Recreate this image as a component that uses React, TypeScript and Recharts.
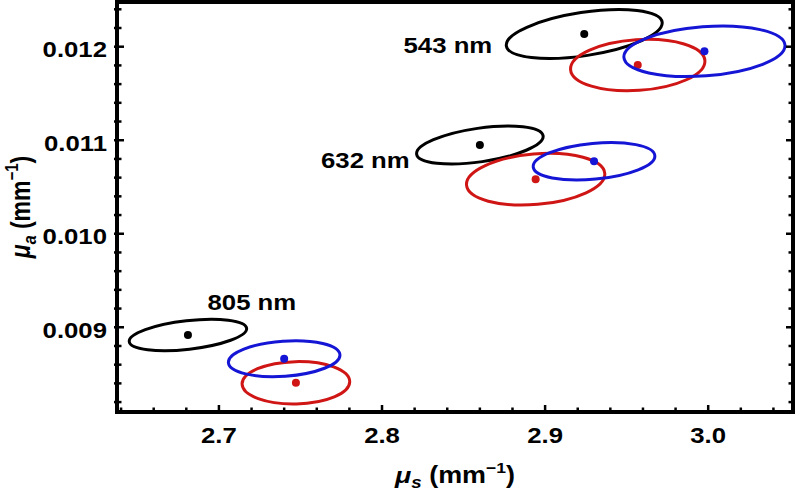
import React from 'react';
import { ScatterChart, Scatter, XAxis, YAxis } from 'recharts';

// wavelength groups, same order in every array below
const wavelengths = ['543 nm', '632 nm', '805 nm'];

// black estimates: centre, half extent of the ellipse along each axis, correlation
const blackMus = [2.924, 2.86, 2.681];
const blackMua = [0.012136, 0.010949, 0.008918];
const blackHalfMus = [0.0478, 0.0388, 0.036];
const blackHalfMua = [0.000262, 0.000203, 0.000168];
const blackRho = [0.45, 0.45, 0.4];

const redMus = [2.9568, 2.8942, 2.7472];
const redMua = [0.011804, 0.010583, 0.008406];
const redHalfMus = [0.0412, 0.0424, 0.033];
const redHalfMua = [0.000275, 0.000276, 0.000227];
const redRho = [0.15, 0.2, 0.05];

const blueMus = [2.9977, 2.93, 2.74];
const blueMua = [0.011951, 0.010775, 0.008664];
const blueHalfMus = [0.0494, 0.0373, 0.0342];
const blueHalfMua = [0.00027, 0.0002, 0.000192];
const blueRho = [0.22, 0.28, 0.2];

// where the wavelength labels sit
const labelMus = [2.8404, 2.7898, 2.7202];
const labelMua = [0.012018, 0.010789, 0.009274];

const xMajorTicks = [2.7, 2.8, 2.9, 3.0];
const xMinorTicks = [2.64, 2.66, 2.68, 2.72, 2.74, 2.76, 2.78, 2.82, 2.84, 2.86, 2.88, 2.92, 2.94, 2.96, 2.98, 3.02, 3.04];
const yMajorTicks = [0.009, 0.01, 0.011, 0.012];
const yMinorTicks = [
  0.0082, 0.0084, 0.0086, 0.0088, 0.0092, 0.0094, 0.0096, 0.0098, 0.0102, 0.0104, 0.0106, 0.0108,
  0.0112, 0.0114, 0.0116, 0.0118, 0.0122, 0.0124,
];

const X_DOMAIN: [number, number] = [2.6375, 3.052];
const Y_DOMAIN: [number, number] = [0.008094, 0.012478];

const CHART_W = 800;
const CHART_H = 492;
const PLOT_LEFT = 117;
const PLOT_RIGHT = 793;
const PLOT_TOP = 2;
const PLOT_BOTTOM = 412;

// pixels per data unit, used only for the ellipse radii
const KX = (PLOT_RIGHT - PLOT_LEFT) / (X_DOMAIN[1] - X_DOMAIN[0]);
const KY = (PLOT_BOTTOM - PLOT_TOP) / (Y_DOMAIN[1] - Y_DOMAIN[0]);

const FONT = '"Liberation Sans", Arial, Helvetica, sans-serif';
const STRETCH = 1.17;
const RED = '#d01515';
const BLUE = '#1515d5';

const rows = (mus: number[], mua: number[], hx: number[], hy: number[], rho: number[]) =>
  wavelengths.map((w, i) => ({ name: w, x: mus[i], y: mua[i], hx: hx[i], hy: hy[i], rho: rho[i] }));

const blackData = rows(blackMus, blackMua, blackHalfMus, blackHalfMua, blackRho);
const redData = rows(redMus, redMua, redHalfMus, redHalfMua, redRho);
const blueData = rows(blueMus, blueMua, blueHalfMus, blueHalfMua, blueRho);
const labelData = wavelengths.map((w, i) => ({ name: w, x: labelMus[i], y: labelMua[i] }));

const isMajor = (v: number, majors: number[]) => majors.some((m) => Math.abs(m - v) < 1e-9);

const ellipseShape = (color: string) => (props: any) => {
  const { cx, cy, payload } = props;
  if (cx == null || cy == null) return <g />;
  const sx = payload.hx * KX;
  const sy = payload.hy * KY;
  const c = -payload.rho * sx * sy; // screen y points down
  const a = sx * sx;
  const b = sy * sy;
  const mid = (a + b) / 2;
  const d = Math.sqrt(((a - b) / 2) ** 2 + c * c);
  const rx = Math.sqrt(mid + d);
  const ry = Math.sqrt(Math.max(mid - d, 0));
  const deg = (0.5 * Math.atan2(2 * c, a - b) * 180) / Math.PI;
  return (
    <g>
      <ellipse
        cx={cx}
        cy={cy}
        rx={rx}
        ry={ry}
        transform={`rotate(${deg} ${cx} ${cy})`}
        fill="none"
        stroke={color}
        strokeWidth={3}
      />
      <circle cx={cx} cy={cy} r={4} fill={color} />
    </g>
  );
};

const labelShape = (props: any) => {
  const { cx, cy, payload } = props;
  return (
    <text
      transform={`translate(${cx},${cy}) scale(${STRETCH},1)`}
      textAnchor="middle"
      dy="0.36em"
      fontFamily={FONT}
      fontWeight="bold"
      fontSize={22}
      fill="#000"
    >
      {payload.name}
    </text>
  );
};

const BottomTick = (props: any) => {
  const { x, y, payload } = props;
  const major = isMajor(payload.value, xMajorTicks);
  return (
    <g>
      <line x1={x} x2={x} y1={y} y2={y - (major ? 7 : 4.5)} stroke="#000" strokeWidth={2.5} />
      {major && (
        <text
          transform={`translate(${x},${y + 31}) scale(${STRETCH},1)`}
          textAnchor="middle"
          fontFamily={FONT}
          fontWeight="bold"
          fontSize={22}
          fill="#000"
        >
          {payload.value.toFixed(1)}
        </text>
      )}
    </g>
  );
};

const TopTick = (props: any) => {
  const { x, y, payload } = props;
  const major = isMajor(payload.value, xMajorTicks);
  return <line x1={x} x2={x} y1={y} y2={y + (major ? 7 : 4.5)} stroke="#000" strokeWidth={2.5} />;
};

const LeftTick = (props: any) => {
  const { x, y, payload } = props;
  const major = isMajor(payload.value, yMajorTicks);
  return (
    <g>
      <line x1={x - 3} x2={x + (major ? 7 : 4.5)} y1={y} y2={y} stroke="#000" strokeWidth={2.5} />
      {major && (
        <text
          transform={`translate(${x - 10},${y + 10.5}) scale(${STRETCH},1)`}
          textAnchor="end"
          fontFamily={FONT}
          fontWeight="bold"
          fontSize={22}
          fill="#000"
        >
          {payload.value.toFixed(3)}
        </text>
      )}
    </g>
  );
};

const RightTick = (props: any) => {
  const { x, y, payload } = props;
  const major = isMajor(payload.value, yMajorTicks);
  return <line x1={x} x2={x - (major ? 7 : 4.5)} y1={y} y2={y} stroke="#000" strokeWidth={2.5} />;
};

const XTitle = () => (
  <text
    transform={`translate(${(PLOT_LEFT + PLOT_RIGHT) / 2},483) scale(${STRETCH},1)`}
    textAnchor="middle"
    fontFamily={FONT}
    fontWeight="bold"
    fontSize={23}
    fill="#000"
  >
    <tspan fontStyle="italic">μ</tspan>
    <tspan fontStyle="italic" fontSize={16} dy={5}>s</tspan>
    <tspan dy={-5}> (mm</tspan>
    <tspan fontSize={15} dy={-10}>−1</tspan>
    <tspan dy={10}>)</tspan>
  </text>
);

const YTitle = () => (
  <text
    transform={`translate(30,${(PLOT_TOP + PLOT_BOTTOM) / 2}) rotate(-90) scale(1,${STRETCH})`}
    textAnchor="middle"
    fontFamily={FONT}
    fontWeight="bold"
    fontSize={23}
    fill="#000"
  >
    <tspan fontStyle="italic">μ</tspan>
    <tspan fontStyle="italic" fontSize={16} dy={5}>a</tspan>
    <tspan dy={-5}> (mm</tspan>
    <tspan fontSize={15} dy={-10}>−1</tspan>
    <tspan dy={10}>)</tspan>
  </text>
);

const frameLine = { stroke: '#000', strokeWidth: 4, strokeLinecap: 'square' as const };
const xTicks = [...xMinorTicks, ...xMajorTicks].sort((p, q) => p - q);
const yTicks = [...yMinorTicks, ...yMajorTicks].sort((p, q) => p - q);

export default function App() {
  return (
    <div style={{ position: 'absolute', left: 0, top: 0, background: '#fff' }}>
      <ScatterChart
        width={CHART_W}
        height={CHART_H}
        margin={{ top: PLOT_TOP - 1, right: CHART_W - PLOT_RIGHT - 1, bottom: 0, left: 0 }}
      >
        <XAxis
          xAxisId="b"
          type="number"
          dataKey="x"
          orientation="bottom"
          domain={X_DOMAIN}
          allowDataOverflow
          ticks={xTicks}
          interval={0}
          height={CHART_H - PLOT_BOTTOM}
          tickSize={0}
          tickMargin={0}
          tickLine={false}
          axisLine={frameLine}
          tick={BottomTick}
          label={{ content: XTitle }}
        />
        <XAxis
          xAxisId="t"
          type="number"
          orientation="top"
          domain={X_DOMAIN}
          allowDataOverflow
          ticks={xTicks}
          interval={0}
          height={1}
          tickSize={0}
          tickMargin={0}
          tickLine={false}
          axisLine={frameLine}
          tick={TopTick}
        />
        <YAxis
          yAxisId="l"
          type="number"
          dataKey="y"
          orientation="left"
          domain={Y_DOMAIN}
          allowDataOverflow
          ticks={yTicks}
          interval={0}
          width={PLOT_LEFT}
          tickSize={0}
          tickMargin={0}
          tickLine={false}
          axisLine={frameLine}
          tick={LeftTick}
          label={{ content: YTitle }}
        />
        <YAxis
          yAxisId="r"
          type="number"
          orientation="right"
          domain={Y_DOMAIN}
          allowDataOverflow
          ticks={yTicks}
          interval={0}
          width={1}
          tickSize={0}
          tickMargin={0}
          tickLine={false}
          axisLine={frameLine}
          tick={RightTick}
        />
        <Scatter xAxisId="b" yAxisId="l" data={blackData} shape={ellipseShape('#000')} isAnimationActive={false} />
        <Scatter xAxisId="b" yAxisId="l" data={redData} shape={ellipseShape(RED)} isAnimationActive={false} />
        <Scatter xAxisId="b" yAxisId="l" data={blueData} shape={ellipseShape(BLUE)} isAnimationActive={false} />
        <Scatter xAxisId="b" yAxisId="l" data={labelData} shape={labelShape} isAnimationActive={false} />
      </ScatterChart>
    </div>
  );
}
